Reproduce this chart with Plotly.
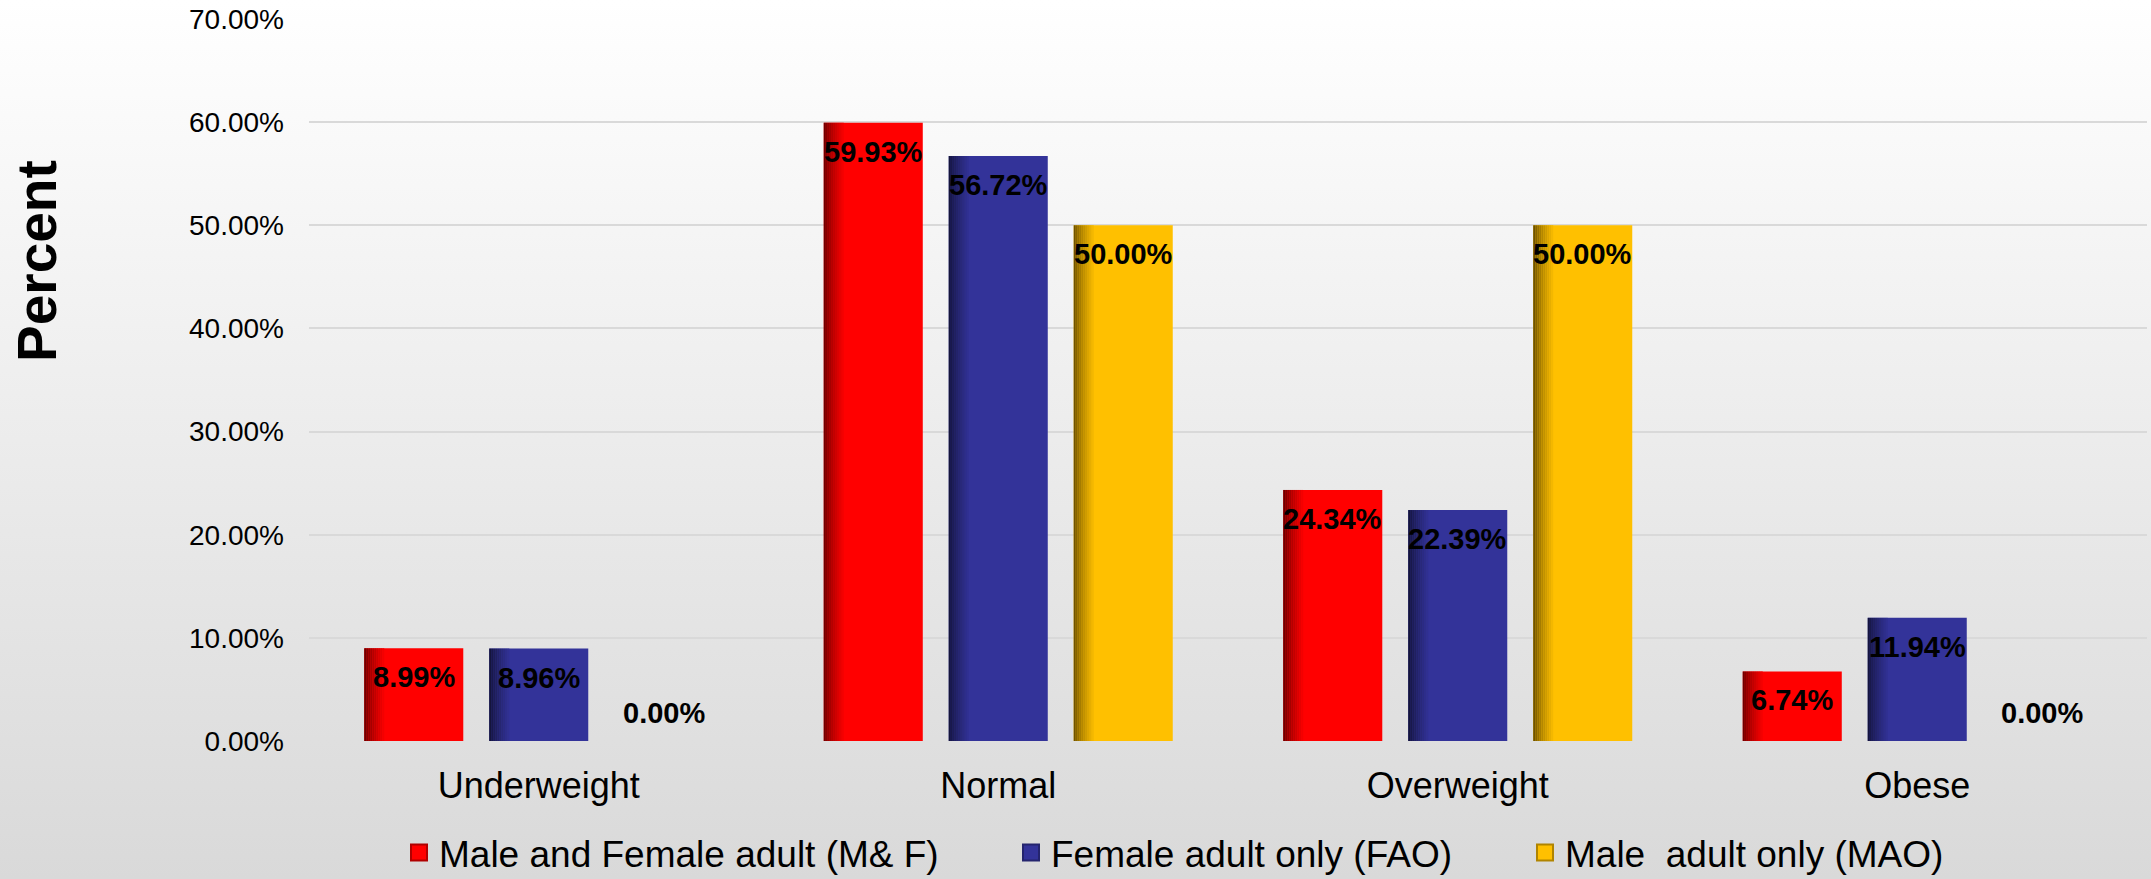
import base64
import plotly.graph_objects as go

categories = ["Underweight", "Normal", "Overweight", "Obese"]
series_names = ["Male and Female adult (M& F)", "Female adult only (FAO)", "Male  adult only (MAO)"]
mf_values = [8.99, 59.93, 24.34, 6.74]
fao_values = [8.96, 56.72, 22.39, 11.94]
mao_values = [0.00, 50.00, 50.00, 0.00]
y_ticks = [0, 10, 20, 30, 40, 50, 60, 70]

series_values = [mf_values, fao_values, mao_values]
base_colors = ["#FF0000", "#333399", "#FFC000"]
dark_colors = ["#6E0000", "#14143C", "#6E5200"]
legend_edge_colors = ["#B00000", "#24246E", "#B08400"]

FONT = "Liberation Sans"
W, H = 2151, 879
ML, MR, MT, MB = 309, 4, 19, 138
PW = W - ML - MR
PH = H - MT - MB

x_pos = list(range(len(categories)))
slot = 0.272
bar_w = 0.2155
px = 1.0 / (PW / len(categories))  # one pixel in data units


def hex2rgb(h):
    h = h.lstrip("#")
    return tuple(int(h[i:i + 2], 16) for i in (0, 2, 4))


def mix(c1, c2, t):
    a, b = hex2rgb(c1), hex2rgb(c2)
    return "rgb(%d,%d,%d)" % tuple(round(a[i] + (b[i] - a[i]) * t) for i in range(3))


fig = go.Figure()

n_strips = 10
strip_px = 2
for k, (vals, col, dark) in enumerate(zip(series_values, base_colors, dark_colors)):
    off = (k - 1) * slot - bar_w / 2
    fig.add_trace(go.Bar(
        x=x_pos, y=vals, width=bar_w, offset=off,
        marker=dict(color=col, line=dict(width=0)),
        showlegend=False, hoverinfo="skip",
    ))
    # left-edge shading
    for s in range(n_strips):
        t = (s / n_strips) ** 0.8
        fig.add_trace(go.Bar(
            x=x_pos, y=vals, width=strip_px * px, offset=off + s * strip_px * px,
            marker=dict(color=mix(dark, col, t), line=dict(width=0)),
            showlegend=False, hoverinfo="skip",
        ))

# legend entries
legend_names = ["legend", "legend2", "legend3"]
for k, (name, col) in enumerate(zip(series_names, base_colors)):
    fig.add_trace(go.Scatter(
        x=[None], y=[None], mode="markers", name=name,
        marker=dict(symbol="square", size=16, color=col,
                    line=dict(width=2, color=legend_edge_colors[k])),
        legend=legend_names[k], showlegend=True,
    ))

# data labels
annotations = []
for k, vals in enumerate(series_values):
    for i, v in enumerate(vals):
        annotations.append(dict(
            x=x_pos[i] + (k - 1) * slot, y=v, xref="x", yref="y",
            text="<b>%.2f%%</b>" % v, showarrow=False,
            yanchor="middle", xanchor="center",
            yshift=-29 if v > 0 else 28,
            font=dict(family=FONT, size=29, color="black"),
        ))

# y-axis title
annotations.append(dict(
    x=(37 - ML) / PW, y=(PH + MT - 261) / PH, xref="paper", yref="paper",
    text="<b>Percent</b>", textangle=-90, showarrow=False,
    xanchor="center", yanchor="middle",
    font=dict(family=FONT, size=55, color="black"),
))

svg = ('<svg xmlns="http://www.w3.org/2000/svg" width="100" height="100" preserveAspectRatio="none">'
       '<defs><linearGradient id="g" x1="0" y1="0" x2="0" y2="1">'
       '<stop offset="0" stop-color="#FFFFFF"/><stop offset="1" stop-color="#D9D9D9"/>'
       '</linearGradient></defs><rect width="100" height="100" fill="url(#g)"/></svg>')
src = "data:image/svg+xml;base64," + base64.b64encode(svg.encode()).decode()

legend_text_x = [441, 1053, 1567]
legends = {}
for k, ln in enumerate(legend_names):
    legends[ln] = dict(
        orientation="h", font=dict(family=FONT, size=37, color="black"),
        bgcolor="rgba(0,0,0,0)", xref="container", yref="container",
        yanchor="middle", xanchor="left",
        y=1 - 853 / H, x=(legend_text_x[k] - 42) / W,
        itemclick=False, itemdoubleclick=False,
    )

fig.update_layout(
    width=W, height=H,
    margin=dict(l=ML, r=MR, t=MT, b=MB, autoexpand=False),
    barmode="overlay",
    paper_bgcolor="white",
    plot_bgcolor="rgba(0,0,0,0)",
    font=dict(family=FONT, color="black"),
    images=[dict(source=src, xref="paper", yref="paper",
                 x=-ML / PW, y=1 + MT / PH, sizex=W / PW, sizey=H / PH,
                 sizing="stretch", layer="below", xanchor="left", yanchor="top")],
    xaxis=dict(
        range=[-0.5, len(categories) - 0.5],
        tickmode="array", tickvals=x_pos, ticktext=categories,
        tickfont=dict(family=FONT, size=36, color="black"),
        showgrid=False, zeroline=False, showline=False, ticks="",
        ticklabelstandoff=20, automargin=False,
    ),
    yaxis=dict(
        range=[0, 70], tickmode="array", tickvals=y_ticks,
        ticktext=["%.2f%%" % v for v in y_ticks],
        tickfont=dict(family=FONT, size=28, color="black"),
        showgrid=True, gridcolor="#D9D9D9", gridwidth=2,
        zeroline=False, showline=False, ticks="",
        ticklabelstandoff=24, automargin=False,
    ),
    annotations=annotations,
    **legends,
)

fig.write_html(
    "out.html",
    config={"displayModeBar": False},
    post_script="document.body.style.margin='0';document.body.style.overflow='hidden';",
)
